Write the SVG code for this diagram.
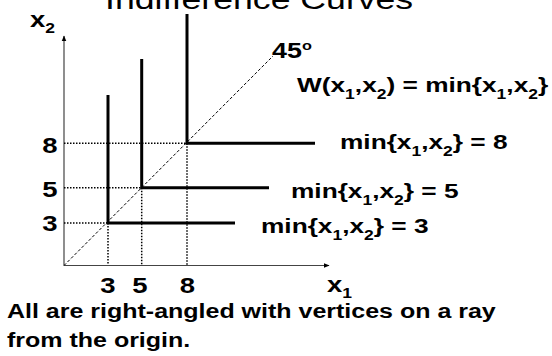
<svg xmlns="http://www.w3.org/2000/svg" width="552" height="356" viewBox="0 0 552 356">
<defs>
<style>
text{font-family:"Liberation Sans",Arial,sans-serif;fill:#000}
.b{font-weight:bold}
.t{font-size:21px;font-weight:bold}
.s{font-size:14px}
.d{font-size:22px;font-weight:bold;text-anchor:middle}
.thick{fill:none;stroke:#000;stroke-width:3}
.dot{fill:none;stroke:#000;stroke-width:1.5;stroke-dasharray:1.5 1.5}
.axis{fill:none;stroke:#444;stroke-width:1.2}
</style>
<marker id="ah" viewBox="0 0 10 10" refX="9" refY="5" markerWidth="6" markerHeight="6" markerUnits="userSpaceOnUse" orient="auto">
<path d="M0,1 L10,5 L0,9 z" fill="#000"/>
</marker>
</defs>
<rect width="552" height="356" fill="#fff"/>
<text id="title" transform="translate(105 8.5) scale(1.25 1)" style="font-size:28.5px">Indifference Curves</text>
<g id="connectors">
<line class="axis" x1="64" y1="265.5" x2="64" y2="36" marker-end="url(#ah)"/>
<line class="axis" x1="64" y1="265.5" x2="329" y2="265.5" marker-end="url(#ah)"/>
<line x1="64" y1="265.5" x2="273" y2="56" stroke="#000" stroke-width="1" stroke-dasharray="3 2"/>
<path class="dot" d="M64,143.3H187 M64,187.7H141.7 M64,223H108 M108,223V265 M141.7,187.7V265 M187,143.3V265"/>
</g>
<g id="curve3"><path class="thick" d="M108,95V223H235"/></g>
<g id="curve5"><path class="thick" d="M141.7,59V187.7H269"/></g>
<g id="curve8"><path class="thick" d="M187,14V143.3H315"/></g>
<g id="labels">
<text transform="translate(30 27) scale(1.25 1)" style="font-size:22px" class="b">x<tspan class="s" dy="6">2</tspan></text>
<text transform="translate(327 292) scale(1.25 1)" style="font-size:22px" class="b">x<tspan class="s" dy="6">1</tspan></text>
<text transform="translate(272 58) scale(1.25 1)" class="b" style="font-size:21.5px">45<tspan style="font-size:13px" dy="-8">o</tspan></text>
<text transform="translate(297 92) scale(1.25 1)" class="t">W(x<tspan class="s" dy="7">1</tspan><tspan dy="-7">,x</tspan><tspan class="s" dy="7">2</tspan><tspan dy="-7">) = min{x</tspan><tspan class="s" dy="7">1</tspan><tspan dy="-7">,x</tspan><tspan class="s" dy="7">2</tspan><tspan dy="-7">}</tspan></text>
<text transform="translate(340 149) scale(1.25 1)" class="t">min{x<tspan class="s" dy="7">1</tspan><tspan dy="-7">,x</tspan><tspan class="s" dy="7">2</tspan><tspan dy="-7">} = 8</tspan></text>
<text transform="translate(291 198) scale(1.25 1)" class="t">min{x<tspan class="s" dy="7">1</tspan><tspan dy="-7">,x</tspan><tspan class="s" dy="7">2</tspan><tspan dy="-7">} = 5</tspan></text>
<text transform="translate(261 233) scale(1.25 1)" class="t">min{x<tspan class="s" dy="7">1</tspan><tspan dy="-7">,x</tspan><tspan class="s" dy="7">2</tspan><tspan dy="-7">} = 3</tspan></text>
<text transform="translate(50 153) scale(1.25 1)" class="d">8</text>
<text transform="translate(50 197) scale(1.25 1)" class="d">5</text>
<text transform="translate(50 231) scale(1.25 1)" class="d">3</text>
<text transform="translate(108 292.5) scale(1.25 1)" class="d">3</text>
<text transform="translate(140 292.5) scale(1.25 1)" class="d">5</text>
<text transform="translate(187.5 292.5) scale(1.25 1)" class="d">8</text>
<text transform="translate(7 318) scale(1.25 1)" class="b" style="font-size:20px">All are right-angled with vertices on a ray</text>
<text transform="translate(7 346.5) scale(1.25 1)" class="b" style="font-size:20px">from the origin.</text>
</g>
</svg>
